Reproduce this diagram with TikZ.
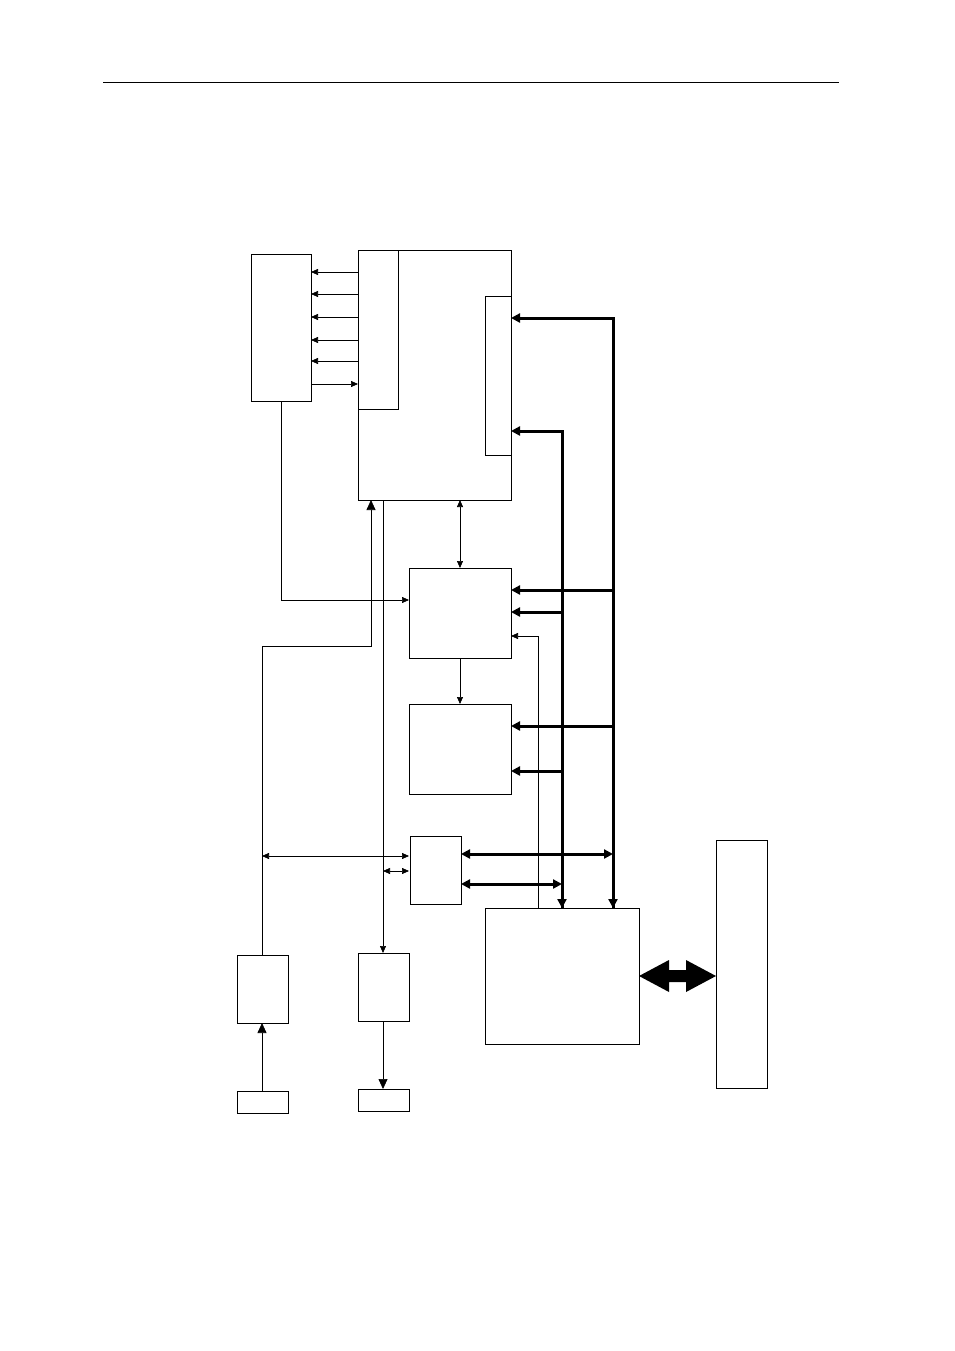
\documentclass[tikz,border=0pt]{standalone}
\usetikzlibrary{arrows.meta}
\begin{document}
\begin{tikzpicture}[x=1pt,y=-1pt,
 bx/.style={draw,line width=0.8pt},
 thin/.style={line width=0.7pt,-{Triangle[length=7pt,width=6pt]}},
 thin2/.style={line width=0.7pt,{Triangle[length=7pt,width=6pt]}-{Triangle[length=7pt,width=6pt]}},
 thick/.style={line width=3pt,-{Triangle[length=9pt,width=9pt]}},
 thick2/.style={line width=3pt,{Triangle[length=9pt,width=9pt]}-{Triangle[length=9pt,width=9pt]}},
 big/.style={line width=0.7pt,-{Triangle[length=10pt,width=9pt]}}]
\useasboundingbox (0,0) rectangle (954,1351);
\draw[line width=0.6pt] (103,82) -- (839,82);
% boxes
\draw[bx] (251,254) rectangle (311,401);
\draw[bx] (358,250) rectangle (511,500);
\draw[bx] (398,250) -- (398,409) -- (358,409);
\draw[bx] (485,296) rectangle (511,455);
\draw[bx] (409,568) rectangle (511,658);
\draw[bx] (409,704) rectangle (511,794);
\draw[bx] (410,836) rectangle (461,904);
\draw[bx] (485,908) rectangle (639,1044);
\draw[bx] (716,840) rectangle (767,1088);
\draw[bx] (237,955) rectangle (288,1023);
\draw[bx] (237,1091) rectangle (288,1113);
\draw[bx] (358,953) rectangle (409,1021);
\draw[bx] (358,1089) rectangle (409,1111);
% strip arrows
\foreach \y in {272,294,317,340,361} \draw[thin] (358,\y) -- (311,\y);
\draw[thin] (311,384) -- (358,384);
% thick buses
\draw[thick] (613,908) -- (613,318) -- (511,318);
\draw[thick] (613,318) -- (613,908);
\draw[thick] (562,908) -- (562,431) -- (511,431);
\draw[thick] (562,431) -- (562,908);
\draw[thick] (613,590) -- (511,590);
\draw[thick] (562,612) -- (511,612);
\draw[thick] (613,726) -- (511,726);
\draw[thick] (562,771) -- (511,771);
\draw[thick2] (461,854) -- (613,854);
\draw[thick2] (461,884) -- (562,884);
% thin connectors
\draw[thin2] (460,500) -- (460,568);
\draw[thin] (460,658) -- (460,704);
\draw[thin] (538,908) -- (538,636) -- (511,636);
\draw[thin] (281,401) -- (281,600) -- (409,600);
\draw[big] (262,955) -- (262,646) -- (371,646) -- (371,500);
\draw[thin2] (262,856) -- (409,856);
\draw[thin] (383,500) -- (383,953);
\draw[thin2] (383,871) -- (409,871);
\draw[big] (262,1091) -- (262,1023);
\draw[big] (383,1021) -- (383,1089);
% block double arrow
\fill (639,976) -- (669,960) -- (669,970) -- (686,970) -- (686,960) -- (716,976) -- (686,992) -- (686,982) -- (669,982) -- (669,992) -- cycle;
\end{tikzpicture}
\end{document}
